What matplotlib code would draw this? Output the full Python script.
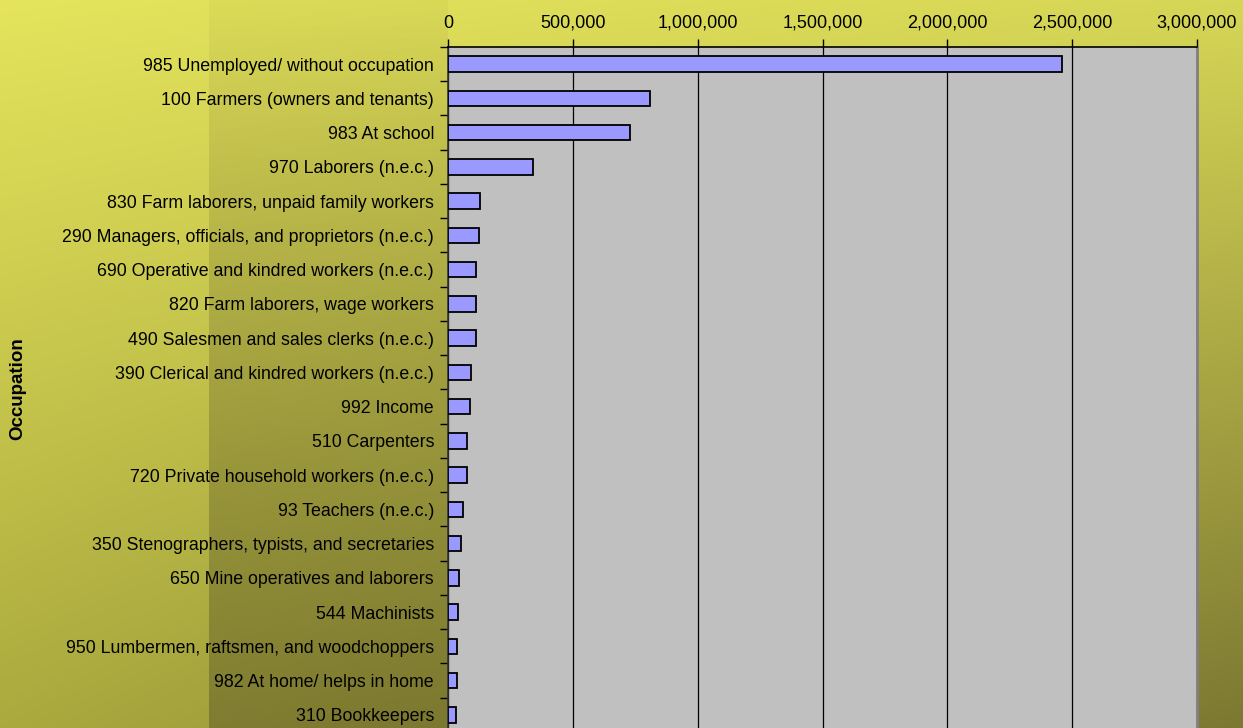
"""
Top occupations, horizontal bar chart (Excel-style look).
"""

import numpy as np
import matplotlib.pyplot as plt
from matplotlib.ticker import FuncFormatter, FixedLocator

plt.rcParams["font.family"] = ["Liberation Sans", "DejaVu Sans"]

occupations = [
    "985 Unemployed/ without occupation",
    "100 Farmers (owners and tenants)",
    "983 At school",
    "970 Laborers (n.e.c.)",
    "830 Farm laborers, unpaid family workers",
    "290 Managers, officials, and proprietors (n.e.c.)",
    "690 Operative and kindred workers (n.e.c.)",
    "820 Farm laborers, wage workers",
    "490 Salesmen and sales clerks (n.e.c.)",
    "390 Clerical and kindred workers (n.e.c.)",
    "992 Income",
    "510 Carpenters",
    "720 Private household workers (n.e.c.)",
    "93 Teachers (n.e.c.)",
    "350 Stenographers, typists, and secretaries",
    "650 Mine operatives and laborers",
    "544 Machinists",
    "950 Lumbermen, raftsmen, and woodchoppers",
    "982 At home/ helps in home",
    "310 Bookkeepers",
]
counts = [
    2460000, 810000, 730000, 342000, 128000, 126000, 113000, 111000,
    111000, 94000, 90000, 76000, 75000, 62000, 52000, 43000, 41000,
    36000, 35000, 34000,
]
x_ticks = [0, 500000, 1000000, 1500000, 2000000, 2500000, 3000000]

W, H = 1243, 728
fig = plt.figure(figsize=(W / 100, H / 100), dpi=100)

# background gradient (bilinear between corner colours)
tl = np.array([229, 228, 92]) / 255
tr = np.array([214, 214, 86]) / 255
bl = np.array([170, 170, 62]) / 255
br = np.array([124, 120, 50]) / 255
yy, xx = np.mgrid[0:1:200j, 0:1:300j]
grad = ((1 - yy)[..., None] * ((1 - xx)[..., None] * tl + xx[..., None] * tr)
        + yy[..., None] * ((1 - xx)[..., None] * bl + xx[..., None] * br))
bg = fig.add_axes([0, 0, 1, 1], zorder=-2)
bg.imshow(grad, aspect="auto", extent=[0, 1, 1, 0], interpolation="bilinear")
# darker band behind the labels
band = np.zeros((200, 1, 4))
band[..., :3] = np.array([100, 95, 40]) / 255
band[..., 3] = 0.05 + 0.5 * yy[:, :1]
bg.imshow(band, aspect="auto", extent=[209 / W, 448 / W, 1, 0], interpolation="bilinear")
bg.set_xlim(0, 1)
bg.set_ylim(1, 0)
bg.axis("off")

left, right, top, bottom = 448, 1197, 47, 732
ax = fig.add_axes([left / W, (H - bottom) / H, (right - left) / W, (bottom - top) / H])
ax.set_facecolor("#C0C0C0")

y = np.arange(len(occupations))
ax.barh(y, counts, height=0.45, color="#9999FF", edgecolor="black", linewidth=1.3, zorder=3)
ax.set_ylim(len(occupations) - 0.5, -0.5)
ax.set_xlim(0, 3000000)

ax.xaxis.tick_top()
ax.set_xticks(x_ticks)
ax.xaxis.set_major_formatter(FuncFormatter(lambda v, p: f"{int(v):,}"))
ax.tick_params(axis="x", direction="out", length=6, width=1, pad=5, labelsize=13, colors="black")
ax.grid(axis="x", color="black", linewidth=0.9, zorder=1)

ax.set_yticks(y)
ax.set_yticklabels(occupations, fontsize=12.8)
ax.yaxis.set_minor_locator(FixedLocator(np.arange(len(occupations) + 1) - 0.5))
ax.tick_params(axis="y", which="major", length=0, pad=10)
ax.tick_params(axis="y", which="minor", direction="out", length=6, width=1)

ax.spines["left"].set_color("#333333")
ax.spines["top"].set_color("black")
ax.spines["right"].set_color("#808080")
ax.spines["right"].set_linewidth(2)
ax.spines["bottom"].set_visible(False)
for s in ("left", "top"):
    ax.spines[s].set_linewidth(1.2)

fig.text(18 / W, 1 - 389 / H, "Occupation", rotation=90, fontsize=13.5,
         fontweight="bold", ha="center", va="center")

fig.savefig("out.png", dpi=100)
